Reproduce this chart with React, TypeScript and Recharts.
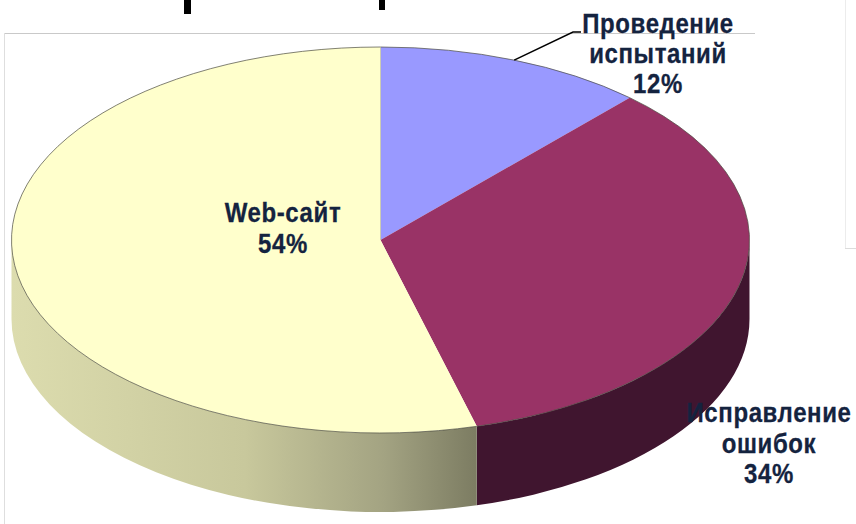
import React from "react";
import { PieChart, Pie, Cell } from "recharts";

const sliceNames = ["Проведение испытаний", "Исправление ошибок", "Web-сайт"];
const sliceValues = [11.8, 34, 54.2];
const sliceLabelLines = [
  ["Проведение", "испытаний", "12%"],
  ["Исправление", "ошибок", "34%"],
  ["Web-сайт", "54%"],
];
const topColors = ["#9999ff", "#993366", "#ffffcc"];
const sideFills = ["#4d4d80", "#40152f", "url(#sideYellow)"];

const data = sliceNames.map((name, i) => ({
  name,
  value: sliceValues[i],
  lines: sliceLabelLines[i],
}));

const W = 856;
const H = 524;
const CX = 380.5;
const CY = 240;
const RX = 369;
const TILT = 193 / 369;
const DEPTH = 79;
const FONT = "'Liberation Sans', Arial, sans-serif";
const LABEL_COLOR = "#14233f";
const LABEL_SIZE = 24;
const LABEL_POS = [
  { x: 658, y: 33, dy: 30 },
  { x: 769, y: 422, dy: 30.5 },
  { x: 283, y: 222, dy: 31 },
];

const rad = (d: number) => (d * Math.PI) / 180;
const ptX = (cx: number, r: number, a: number) => cx + r * Math.cos(rad(a));
const ptY = (cy: number, r: number, a: number) => cy - r * TILT * Math.sin(rad(a));

function EllipseSector(props: any) {
  const { cx, cy, outerRadius: r, startAngle, endAngle, index } = props;
  const ry = r * TILT;
  const sx = ptX(cx, r, startAngle);
  const sy = ptY(cy, r, startAngle);
  const ex = ptX(cx, r, endAngle);
  const ey = ptY(cy, r, endAngle);
  const large = Math.abs(startAngle - endAngle) > 180 ? 1 : 0;
  const arc = `M${sx},${sy} A${r},${ry} 0 ${large} 1 ${ex},${ey}`;
  const top = `M${cx},${cy} L${sx},${sy} A${r},${ry} 0 ${large} 1 ${ex},${ey} Z`;

  // side wall: the part of the rim lying on the lower half of the ellipse
  const from = Math.min(startAngle, 0);
  const to = Math.max(endAngle, -180);
  let side = null;
  if (from > to) {
    const ax = ptX(cx, r, from);
    const ay = ptY(cy, r, from);
    const bx = ptX(cx, r, to);
    const by = ptY(cy, r, to);
    const d = `M${ax},${ay} A${r},${ry} 0 0 1 ${bx},${by} L${bx},${by + DEPTH} A${r},${ry} 0 0 0 ${ax},${ay + DEPTH} Z`;
    side = <path d={d} fill={sideFills[index]} stroke="none" />;
  }
  return (
    <g>
      {side}
      <path d={top} fill={topColors[index]} stroke="none" />
      <path d={arc} fill="none" stroke="#4a4a40" strokeWidth={0.7} />
      {index === 0 && <line x1={cx} y1={cy} x2={sx} y2={sy} stroke="#8a8a80" strokeWidth={0.8} />}
    </g>
  );
}

function SliceLabel(props: any) {
  const { index, cx, cy, outerRadius: r, midAngle } = props;
  const pos = LABEL_POS[index];
  const lines: string[] = data[index].lines;
  const ax = ptX(cx, r, midAngle);
  const ay = ptY(cy, r, midAngle);
  return (
    <g>
      {index === 0 && (
        <polyline
          points={`${ax},${ay} ${573},${32} ${581},${32}`}
          fill="none"
          stroke="#000"
          strokeWidth={1.5}
        />
      )}
      {lines.map((t, i) => (
        <text
          key={t}
          transform={`translate(${pos.x},${pos.y + i * pos.dy}) scale(1,1.12)`}
          textAnchor="middle"
          fontFamily={FONT}
          fontWeight={700}
          fontSize={LABEL_SIZE}
          letterSpacing={0.6}
          fill={LABEL_COLOR}
          stroke={LABEL_COLOR}
          strokeWidth={0.25}
        >
          {t}
        </text>
      ))}
    </g>
  );
}

const box = (left: number, top: number, width: number, height: number, background: string) => (
  <div style={{ position: "absolute", left, top, width, height, background }} />
);

export default function App() {
  return (
    <div style={{ position: "absolute", left: 0, top: 0, width: W, height: H, overflow: "hidden", background: "#fff" }}>
      {box(4, 33, 751, 1, "#c9c9c9")}
      {box(4, 33, 1, 491, "#dedede")}
      {box(845, 0, 1, 249, "#ececec")}
      {box(845, 248, 11, 1, "#dcdcdc")}
      {box(184, 0, 6.5, 13.5, "#000")}
      {box(379, 0, 6, 10, "#000")}
      <div style={{ position: "absolute", left: 0, top: 0 }}>
        <PieChart width={W} height={H} margin={{ top: 0, right: 0, bottom: 0, left: 0 }}>
          <defs>
            <linearGradient id="sideYellow" gradientUnits="userSpaceOnUse" x1={12} y1={0} x2={477} y2={0}>
              <stop offset="0" stopColor="#dcdcae" />
              <stop offset="0.5" stopColor="#c8c89c" />
              <stop offset="0.8" stopColor="#a3a382" />
              <stop offset="1" stopColor="#7c7c62" />
            </linearGradient>
          </defs>
          <Pie
            data={data}
            dataKey="value"
            nameKey="name"
            cx={CX}
            cy={CY}
            innerRadius={0}
            outerRadius={RX}
            startAngle={90}
            endAngle={-270}
            stroke="none"
            isAnimationActive={false}
            shape={EllipseSector}
            label={SliceLabel}
            labelLine={false}
          >
            {data.map((d, i) => (
              <Cell key={d.name} fill={topColors[i]} />
            ))}
          </Pie>
        </PieChart>
      </div>
    </div>
  );
}
